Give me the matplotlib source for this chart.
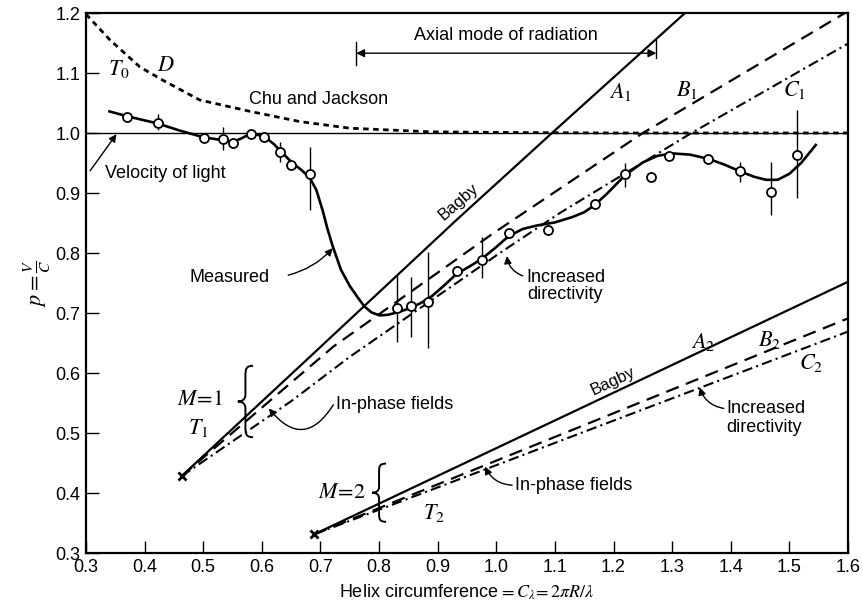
import numpy as np
import matplotlib
matplotlib.use("Agg")
import matplotlib.pyplot as plt
from matplotlib.path import Path
from matplotlib.patches import PathPatch

plt.rcParams['font.family'] = ['Liberation Sans', 'DejaVu Sans']
plt.rcParams['mathtext.fontset'] = 'stix'

# measured points (open circles)
meas_x = [0.370, 0.422, 0.501, 0.533, 0.551, 0.581, 0.603, 0.631, 0.650, 0.682,
          0.831, 0.854, 0.883, 0.933, 0.975, 1.021, 1.089, 1.168, 1.220, 1.264,
          1.294, 1.362, 1.416, 1.469, 1.513]
meas_y = [1.026, 1.017, 0.991, 0.990, 0.983, 0.999, 0.993, 0.968, 0.947, 0.931,
          0.709, 0.711, 0.718, 0.770, 0.788, 0.833, 0.839, 0.882, 0.931, 0.927,
          0.962, 0.957, 0.936, 0.902, 0.963]

# vertical spread bars
bar_x = [0.422, 0.533, 0.631, 0.682, 0.831, 0.854, 0.883, 0.975, 1.220, 1.416, 1.469, 1.513]
bar_lo = [1.005, 0.972, 0.952, 0.872, 0.652, 0.660, 0.641, 0.758, 0.910, 0.918, 0.863, 0.892]
bar_hi = [1.032, 1.010, 0.985, 0.977, 0.763, 0.760, 0.802, 0.827, 0.950, 0.952, 0.952, 1.038]

# smooth measured curve
curve_x = [0.340, 0.370, 0.400, 0.422, 0.460, 0.500, 0.533, 0.551, 0.565, 0.581,
           0.603, 0.620, 0.635, 0.652, 0.668, 0.682, 0.693, 0.704, 0.712, 0.721,
           0.735, 0.750, 0.765, 0.775, 0.787, 0.801, 0.815, 0.831, 0.850, 0.870,
           0.890, 0.910, 0.932, 0.955, 0.975, 1.000, 1.021, 1.045, 1.070, 1.100,
           1.130, 1.150, 1.168, 1.190, 1.220, 1.250, 1.275, 1.300, 1.330, 1.362,
           1.390, 1.416, 1.440, 1.460, 1.480, 1.500, 1.520, 1.545]
curve_y = [1.036, 1.028, 1.021, 1.016, 1.004, 0.993, 0.988, 0.985, 0.991, 0.999,
           0.995, 0.982, 0.967, 0.950, 0.938, 0.925, 0.905, 0.870, 0.840, 0.811,
           0.772, 0.745, 0.724, 0.711, 0.701, 0.696, 0.697, 0.701, 0.707, 0.716,
           0.728, 0.745, 0.765, 0.778, 0.790, 0.810, 0.828, 0.840, 0.846, 0.851,
           0.860, 0.868, 0.880, 0.900, 0.930, 0.951, 0.962, 0.966, 0.964, 0.957,
           0.947, 0.936, 0.927, 0.922, 0.922, 0.932, 0.950, 0.980]

# M = 1 theory curves
a1_x = [0.463, 0.682, 0.932, 1.095, 1.322]
a1_y = [0.428, 0.627, 0.855, 1.000, 1.200]
b1_x = [0.463, 0.722, 0.995, 1.250, 1.600]
b1_y = [0.428, 0.644, 0.833, 1.000, 1.203]
c1_x = [0.463, 0.650, 0.750, 1.006, 1.109, 1.333, 1.600]
c1_y = [0.428, 0.553, 0.627, 0.800, 0.867, 1.000, 1.149]

# M = 2 theory curves
a2_x = [0.689, 1.600]
a2_y = [0.331, 0.752]
b2_x = [0.689, 1.600]
b2_y = [0.331, 0.691]
c2_x = [0.689, 1.600]
c2_y = [0.331, 0.669]

# Chu and Jackson (D)
d_x = [0.300, 0.341, 0.392, 0.431, 0.494, 0.580, 0.665, 0.750, 0.887, 1.000, 1.200, 1.600]
d_y = [1.198, 1.155, 1.110, 1.088, 1.055, 1.036, 1.019, 1.008, 1.002, 1.001, 1.000, 1.000]

t1 = (0.463, 0.428)
t2 = (0.689, 0.331)

xticks = [0.3, 0.4, 0.5, 0.6, 0.7, 0.8, 0.9, 1.0, 1.1, 1.2, 1.3, 1.4, 1.5, 1.6]
yticks = [0.3, 0.4, 0.5, 0.6, 0.7, 0.8, 0.9, 1.0, 1.1, 1.2]

FS = 13


def brace(ax, x, y0, y1, w):
    # curly "{" drawn as bezier path
    h = y1 - y0
    ym = (y0 + y1) / 2
    xs = x + w * 0.5
    verts = [(x + w, y1),
             (x + w * 0.55, y1), (xs, y1 - 0.04 * h), (xs, y1 - 0.14 * h),
             (xs, ym + 0.1 * h),
             (xs, ym + 0.03 * h), (x + w * 0.3, ym), (x, ym),
             (x + w * 0.3, ym), (xs, ym - 0.03 * h), (xs, ym - 0.1 * h),
             (xs, y0 + 0.14 * h),
             (xs, y0 + 0.04 * h), (x + w * 0.55, y0), (x + w, y0)]
    codes = [Path.MOVETO,
             Path.CURVE4, Path.CURVE4, Path.CURVE4,
             Path.LINETO,
             Path.CURVE4, Path.CURVE4, Path.CURVE4,
             Path.CURVE4, Path.CURVE4, Path.CURVE4,
             Path.LINETO,
             Path.CURVE4, Path.CURVE4, Path.CURVE4]
    ax.add_patch(PathPatch(Path(verts, codes), fc='none', ec='k', lw=1.4))


def arrow(ax, tip, start, rad):
    ax.annotate('', xy=tip, xytext=start,
                arrowprops=dict(arrowstyle='-|>', color='k', lw=1.0,
                                shrinkA=0, shrinkB=0, mutation_scale=11,
                                connectionstyle='arc3,rad=%s' % rad))


fig = plt.figure(figsize=(8.63, 6.02), dpi=100)
ax = fig.add_axes([86 / 863, 49 / 602, 762 / 863, 540 / 602])

ax.axhline(1.0, color='k', lw=1.0)
ax.plot(d_x, d_y, color='k', lw=2.0, ls=(0, (2, 1.6)))

ax.plot(a1_x, a1_y, color='k', lw=1.6)
ax.plot(b1_x, b1_y, color='k', lw=1.6, ls=(0, (6, 3.5)))
ax.plot(c1_x, c1_y, color='k', lw=1.5, ls=(0, (5, 2, 1, 2)))
ax.plot(a2_x, a2_y, color='k', lw=1.6)
ax.plot(b2_x, b2_y, color='k', lw=1.6, ls=(0, (6, 3.5)))
ax.plot(c2_x, c2_y, color='k', lw=1.5, ls=(0, (5, 2, 1, 2)))

ax.plot(*t1, marker='x', color='k', ms=6, mew=2)
ax.plot(*t2, marker='x', color='k', ms=6, mew=2)

ax.plot(curve_x, curve_y, color='k', lw=1.9)
ax.vlines(bar_x, bar_lo, bar_hi, color='k', lw=1.0)
ax.plot(meas_x, meas_y, ls='none', marker='o', ms=6.5, mfc='white', mec='k', mew=1.3)

# axial mode arrow
ax.annotate('', xy=(0.761, 1.133), xytext=(1.273, 1.133),
            arrowprops=dict(arrowstyle='<|-|>', color='k', lw=1.0,
                            shrinkA=0, shrinkB=0, mutation_scale=12))
ax.plot([0.761, 0.761], [1.113, 1.152], color='k', lw=1.0)
ax.plot([1.273, 1.273], [1.125, 1.155], color='k', lw=1.0)
ax.text(1.017, 1.163, 'Axial mode of radiation', ha='center', va='center', fontsize=FS)

ax.text(0.356, 1.106, r'$T_0$', ha='center', va='center', fontsize=16)
ax.text(0.436, 1.112, r'$D$', ha='center', va='center', fontsize=16)
ax.text(0.578, 1.056, 'Chu and Jackson', ha='left', va='center', fontsize=FS)

ax.text(0.332, 0.932, 'Velocity of light', ha='left', va='center', fontsize=FS)
arrow(ax, (0.352, 0.998), (0.307, 0.937), 0.0)

ax.text(0.476, 0.760, 'Measured', ha='left', va='center', fontsize=FS)
arrow(ax, (0.721, 0.808), (0.645, 0.763), 0.15)

ax.text(0.935, 0.885, 'Bagby', ha='center', va='center', fontsize=12, rotation=41)
ax.text(1.211, 1.069, r'$A_1$', ha='center', va='center', fontsize=16)
ax.text(1.325, 1.072, r'$B_1$', ha='center', va='center', fontsize=16)
ax.text(1.509, 1.072, r'$C_1$', ha='center', va='center', fontsize=16)

ax.text(1.052, 0.760, 'Increased', ha='left', va='center', fontsize=FS)
ax.text(1.052, 0.731, 'directivity', ha='left', va='center', fontsize=FS)
arrow(ax, (1.018, 0.795), (1.045, 0.762), -0.3)

ax.text(0.494, 0.556, r'$M\!=\!1$', ha='center', va='center', fontsize=16)
ax.text(0.491, 0.508, r'$T_1$', ha='center', va='center', fontsize=16)
brace(ax, 0.559, 0.493, 0.612, 0.026)
ax.text(0.727, 0.547, 'In-phase fields', ha='left', va='center', fontsize=FS)
arrow(ax, (0.612, 0.541), (0.722, 0.547), -0.7)

ax.text(0.737, 0.400, r'$M\!=\!2$', ha='center', va='center', fontsize=16)
ax.text(0.893, 0.367, r'$T_2$', ha='center', va='center', fontsize=16)
brace(ax, 0.788, 0.352, 0.449, 0.024)
ax.text(1.032, 0.413, 'In-phase fields', ha='left', va='center', fontsize=FS)
arrow(ax, (0.981, 0.444), (1.027, 0.413), -0.3)

ax.text(1.199, 0.587, 'Bagby', ha='center', va='center', fontsize=12, rotation=25)
ax.text(1.353, 0.651, r'$A_2$', ha='center', va='center', fontsize=16)
ax.text(1.467, 0.655, r'$B_2$', ha='center', va='center', fontsize=16)
ax.text(1.537, 0.616, r'$C_2$', ha='center', va='center', fontsize=16)

ax.text(1.393, 0.541, 'Increased', ha='left', va='center', fontsize=FS)
ax.text(1.393, 0.509, 'directivity', ha='left', va='center', fontsize=FS)
arrow(ax, (1.347, 0.576), (1.388, 0.541), -0.3)

ax.set_xlim(0.3, 1.6)
ax.set_ylim(0.3, 1.2)
ax.set_xticks(xticks)
ax.set_yticks(yticks)
ax.set_xticklabels(['%.1f' % v for v in xticks], fontsize=FS)
ax.set_yticklabels(['%.1f' % v for v in yticks], fontsize=FS)
ax.tick_params(direction='in', length=9, width=1.0, pad=4)
for s in ax.spines.values():
    s.set_linewidth(1.6)

ax.set_xlabel(r'Helix circumference$\,=C_\lambda\!=2\pi R/\lambda$', fontsize=FS, labelpad=5)
ax.set_ylabel(r'$p=\frac{V}{C}$', fontsize=16, labelpad=2)

fig.savefig('out.png', dpi=100)
